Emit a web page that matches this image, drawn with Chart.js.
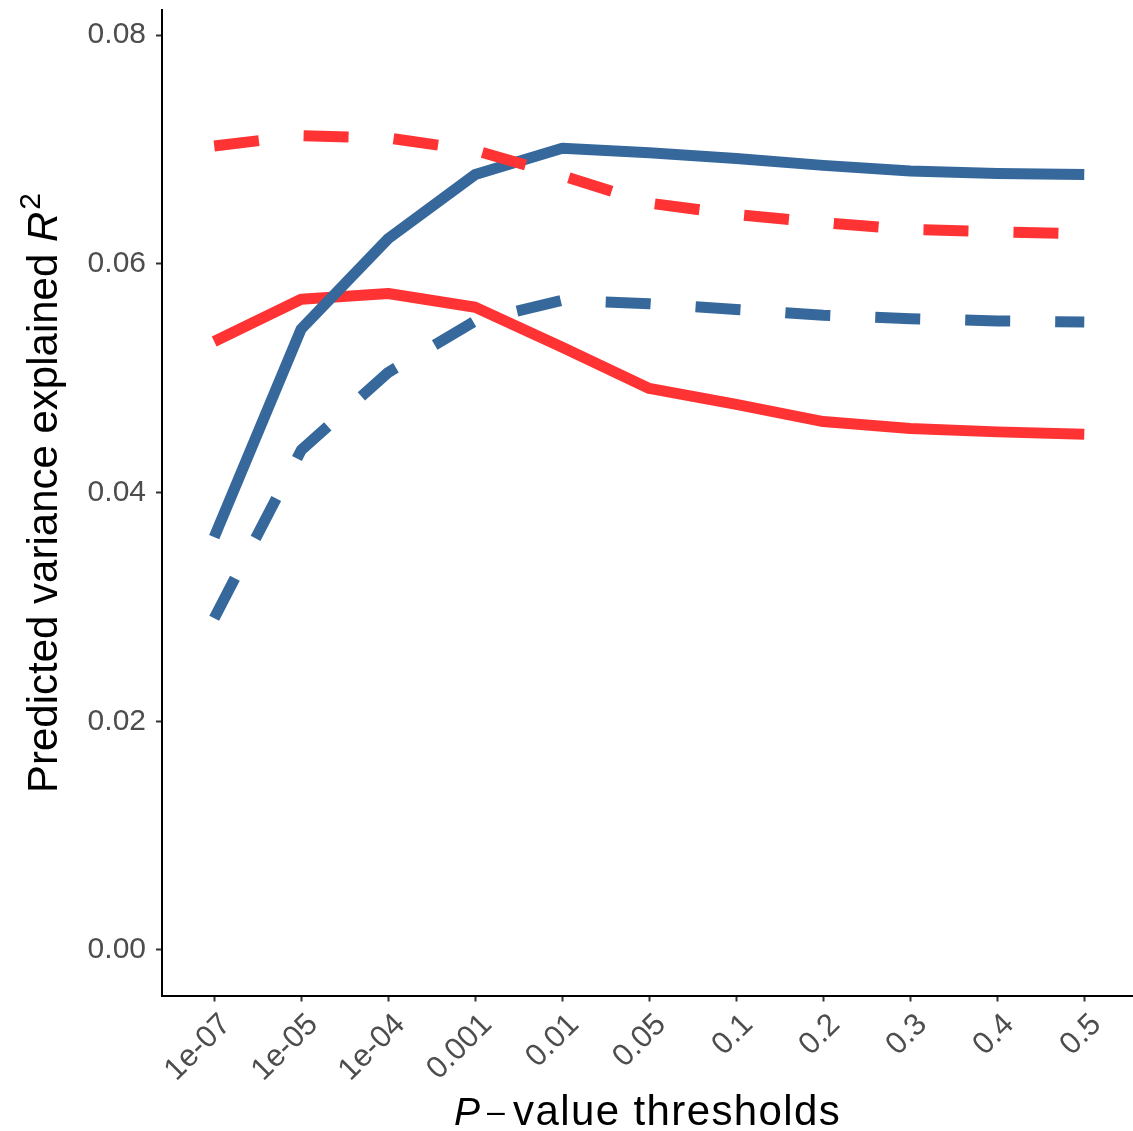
<!DOCTYPE html>
<html>
<head>
<meta charset="utf-8">
<script src="https://cdn.jsdelivr.net/npm/chart.js@4/dist/chart.umd.min.js"></script>
<style>
html,body{margin:0;padding:0;background:#ffffff;}
#wrap{width:1133px;height:1131px;position:relative;}
</style>
</head>
<body>
<div id="wrap"><canvas id="c" width="1133" height="1131"></canvas></div>
<script>
// ---- data ----
const categories = ['1e-07','1e-05','1e-04','0.001','0.01','0.05','0.1','0.2','0.3','0.4','0.5'];
const blueSolid  = [0.0361, 0.0543, 0.0622, 0.0678, 0.0701, 0.0697, 0.0692, 0.0686, 0.0681, 0.0679, 0.0678];
const redSolid   = [0.0532, 0.0569, 0.0574, 0.0562, 0.0527, 0.0491, 0.0477, 0.0462, 0.0456, 0.0453, 0.0451];
const blueDashed = [0.0290, 0.0437, 0.0505, 0.0550, 0.0568, 0.0565, 0.0560, 0.0555, 0.0552, 0.0550, 0.0549];
const redDashed  = [0.0703, 0.0712, 0.0710, 0.0699, 0.0677, 0.0653, 0.0643, 0.0636, 0.0630, 0.0628, 0.0626];
const yTicks = [0, 0.02, 0.04, 0.06, 0.08];

const RED = '#FF3333';
const BLUE = '#36689C';
const FONT = '"Liberation Sans", Arial, Helvetica, sans-serif';

function pts(vals){ return vals.map((v,i)=>({x:i, y:v})); }
function ds(vals, color, dashed, order){
  return {
    data: pts(vals),
    borderColor: color,
    backgroundColor: color,
    borderWidth: 11,
    borderDash: dashed ? [45,45] : [],
    borderCapStyle: 'butt',
    borderJoinStyle: 'round',
    pointRadius: 0,
    pointHoverRadius: 0,
    tension: 0,
    fill: false,
    order: order
  };
}

function zeroPad(scale){
  scale.paddingTop = 0; scale.paddingBottom = 0;
  scale.paddingLeft = 0; scale.paddingRight = 0;
}

const titlePlugin = {
  id: 'axisTitles',
  afterDraw(chart){
    const ctx = chart.ctx;
    ctx.save();
    ctx.fillStyle = '#000000';
    ctx.textBaseline = 'alphabetic';
    ctx.textAlign = 'left';
    const fs = 42;
    const fN = fs + 'px ' + FONT;
    const fI = 'italic ' + fs + 'px ' + FONT;
    // x title: "P − value thresholds" with italic P
    const yb = 1125;
    ctx.font = 'italic 39px ' + FONT; ctx.fillText('P', 454, yb);
    ctx.font = '32px ' + FONT; ctx.fillText('\u2013', 487, yb - 3);
    ctx.font = fN;
    if ('letterSpacing' in ctx) ctx.letterSpacing = '1.4px';
    ctx.fillText('value thresholds', 513, yb);
    if ('letterSpacing' in ctx) ctx.letterSpacing = '0px';

    // y title: "Predicted variance explained R^2"
    ctx.translate(57, 0);
    ctx.rotate(-Math.PI/2);
    const s1 = 'Predicted variance explained ';
    ctx.font = fN; const w1 = ctx.measureText(s1).width;
    ctx.font = fI; const wR = ctx.measureText('R').width;
    const fsS = 30;
    ctx.font = fsS + 'px ' + FONT; const w2 = ctx.measureText('2').width;
    const tot = w1 + wR + 2 + w2;
    const cy = 493;
    let t = -cy - tot/2;
    ctx.font = fN; ctx.fillText(s1, t, 0); t += w1;
    ctx.font = fI; ctx.fillText('R', t, 0); t += wR + 2;
    ctx.font = fsS + 'px ' + FONT; ctx.fillText('2', t, -17);
    ctx.restore();
  }
};

const chart = new Chart(document.getElementById('c'), {
  type: 'line',
  data: {
    datasets: [
      ds(redSolid, RED, false, 4),
      ds(blueSolid, BLUE, false, 3),
      ds(blueDashed, BLUE, true, 2),
      ds(redDashed, RED, true, 1)
    ]
  },
  options: {
    responsive: false,
    animation: false,
    devicePixelRatio: 1,
    layout: { padding: { top: 9.5, right: 0, bottom: 0, left: 0 } },
    plugins: { legend: { display: false }, tooltip: { enabled: false }, title: { display: false } },
    events: [],
    scales: {
      x: {
        type: 'linear',
        min: -0.6,
        max: 10.56,
        afterBuildTicks(scale){ scale.ticks = categories.map((_, i) => ({ value: i })); },
        afterFit(scale){ scale.height = 135.5; zeroPad(scale); },
        ticks: {
          autoSkip: false,
          minRotation: 45,
          maxRotation: 45,
          color: '#4D4D4D',
          font: { family: FONT, size: 31 },
          padding: 5,
          labelOffset: 12,
          callback: (v) => categories[Math.round(v)]
        },
        grid: { display: true, drawOnChartArea: false, drawTicks: true, tickLength: 6, tickWidth: 2, tickColor: '#333333' },
        border: { display: true, color: '#000000', width: 2 }
      },
      y: {
        type: 'linear',
        min: -0.00398,
        max: 0.08223,
        afterBuildTicks(scale){ scale.ticks = yTicks.map(v => ({ value: v })); },
        afterFit(scale){ scale.width = 162; zeroPad(scale); },
        ticks: {
          color: '#4D4D4D',
          font: { family: FONT, size: 30 },
          padding: 10,
          callback: (v) => Number(v).toFixed(2)
        },
        grid: { display: true, drawOnChartArea: false, drawTicks: true, tickLength: 6, tickWidth: 2, tickColor: '#333333' },
        border: { display: true, color: '#000000', width: 2 }
      }
    }
  },
  plugins: [titlePlugin]
});
</script>
</body>
</html>
